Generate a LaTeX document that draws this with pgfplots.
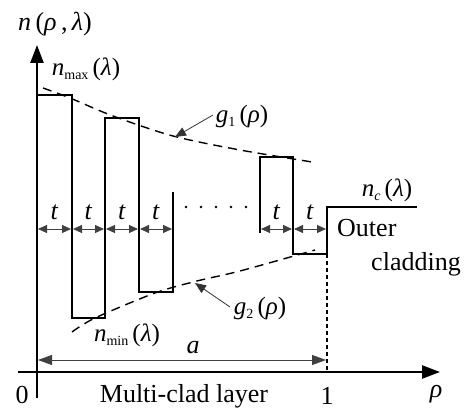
\documentclass[border=0pt]{standalone}
\usepackage{pgfplots}
\pgfplotsset{compat=1.18}
\usepackage{fontspec}
\setmainfont{Liberation Serif}
\usetikzlibrary{arrows.meta}
\newcommand\fs{\fontsize{26}{30}\selectfont}
\newcommand\fm{\fontsize{25}{29}\selectfont}
\newcommand\sub[1]{\raisebox{-0.35ex}{\fontsize{14}{16}\selectfont #1}}
\tikzset{tarr/.style={black!75,line width=0.8pt,{Triangle[length=9pt,width=8pt]}-{Triangle[length=9pt,width=8pt]}}}
\begin{document}
\begin{tikzpicture}
\begin{axis}[x=1pt,y=1pt,xmin=0,xmax=465,ymin=0,ymax=407,
  scale only axis,hide axis,clip=false]
\addplot[draw=none] coordinates {(0,0) (465,407)};
% axes
\addplot[black,line width=2.4pt,-{Triangle[length=18pt,width=13pt]}] coordinates {(37,9) (37,362)};
\addplot[black,line width=2.4pt,-{Triangle[length=18pt,width=13pt]}] coordinates {(18,35) (440,35)};
% profile
\addplot[black,line width=2.2pt,line join=miter] coordinates {(37,312) (72,312) (72,89) (105,89) (105,289) (139,289) (139,115) (173,115) (173,215)};
\addplot[black,line width=2.2pt,line join=miter] coordinates {(260,174) (260,250) (293,250) (293,153) (327,153) (327,200) (417,200)};
% dotted
\addplot[black,line width=1.2pt,dash pattern=on 4pt off 3pt] coordinates {(327,153) (327,35)};
% envelopes
\addplot[black,line width=1.4pt,smooth,dash pattern=on 9pt off 6pt] coordinates {(43,319) (70,309) (113,291) (173,271) (240,257) (312,245)};
\addplot[black,line width=1.4pt,smooth,dash pattern=on 9pt off 6pt] coordinates {(72,75) (95,89) (155,114) (197,126) (240,136) (315,157)};
% t arrows
\addplot[tarr] coordinates {(38,178) (71,178)};
\addplot[tarr] coordinates {(73,178) (104,178)};
\addplot[tarr] coordinates {(106,178) (138,178)};
\addplot[tarr] coordinates {(140,178) (172,178)};
\addplot[tarr] coordinates {(261,178) (292,178)};
\addplot[tarr] coordinates {(294,178) (326,178)};
% dots
\addplot[only marks,mark=*,mark size=1.1pt,black] coordinates {(186,200) (201,200) (216,200) (231,200) (246,200)};
% pointer arrows
\addplot[black!80,line width=0.8pt,-{Triangle[length=11pt,width=9pt]}] coordinates {(213,292) (175,270)};
\addplot[black!80,line width=0.8pt,-{Triangle[length=11pt,width=9pt]}] coordinates {(230,100) (195,124)};
% a arrow
\addplot[black!75,line width=0.8pt,{Triangle[length=14pt,width=10pt]}-{Triangle[length=14pt,width=10pt]}] coordinates {(38,47) (326,47)};
% labels
\node[font=\fs] at (axis cs:55,383) {\textit{n}\,(\textit{ρ}\,,\,\textit{λ})};
\node[font=\fm] at (axis cs:86,338) {\textit{n}\sub{max}\,(\textit{λ})};
\node[font=\fm] at (axis cs:242,291) {\textit{g}\sub{1}\,(\textit{ρ})};
\node[font=\fm] at (axis cs:260,99) {\textit{g}\sub{2}\,(\textit{ρ})};
\node[font=\fm] at (axis cs:127,72) {\textit{n}\sub{min}\,(\textit{λ})};
\node[font=\fm] at (axis cs:387,217) {\textit{n}\sub{\textit{c}}\,(\textit{λ})};
\node[font=\fs] at (axis cs:193,59) {\textit{a}};
\node[font=\fs,anchor=west,inner sep=0pt] at (axis cs:337,179) {Outer};
\node[font=\fs] at (axis cs:416,143) {cladding};
\node[font=\fs] at (axis cs:22,12) {0};
\node[font=\fs] at (axis cs:327,11) {1};
\node[font=\fs] at (axis cs:436,13) {\textit{ρ}};
\node[font=\fs] at (axis cs:184,11) {Multi-clad layer};
\node[font=\fs] at (axis cs:54.5,195) {\textit{t}};
\node[font=\fs] at (axis cs:88.5,195) {\textit{t}};
\node[font=\fs] at (axis cs:122,195) {\textit{t}};
\node[font=\fs] at (axis cs:156,195) {\textit{t}};
\node[font=\fs] at (axis cs:276.5,195) {\textit{t}};
\node[font=\fs] at (axis cs:310,195) {\textit{t}};
\end{axis}
\end{tikzpicture}
\end{document}
